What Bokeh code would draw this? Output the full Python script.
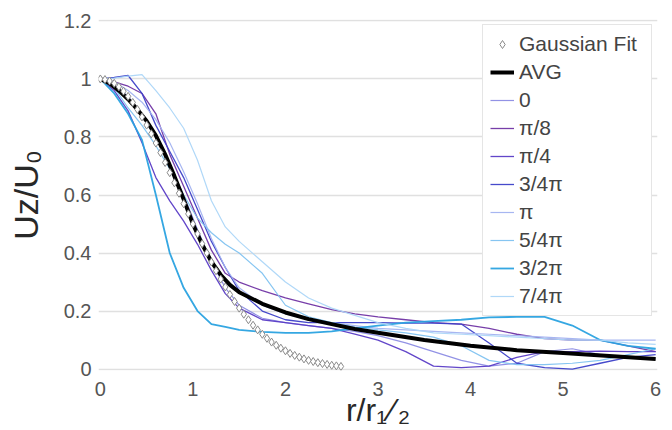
from bokeh.plotting import figure
from bokeh.models import Legend, LegendItem, FixedTicker, Range1d
from bokeh.embed import file_html
from bokeh.resources import INLINE

# ---------------- data ----------------
gauss_r = [0.0, 0.05, 0.1, 0.15, 0.2, 0.25, 0.3, 0.35, 0.4, 0.45, 0.5, 0.55, 0.6, 0.65,
           0.7, 0.75, 0.8, 0.85, 0.9, 0.95, 1.0, 1.05, 1.1, 1.15, 1.2, 1.25, 1.3, 1.35,
           1.4, 1.45, 1.5, 1.55, 1.6, 1.65, 1.7, 1.75, 1.8, 1.85, 1.9, 1.95, 2.0, 2.05,
           2.1, 2.15, 2.2, 2.25, 2.3, 2.35, 2.4, 2.45, 2.5, 2.55, 2.6]
gauss_u = [1.0, 0.998, 0.993, 0.985, 0.973, 0.958, 0.940, 0.919, 0.895, 0.869, 0.841,
           0.811, 0.779, 0.746, 0.712, 0.677, 0.642, 0.606, 0.570, 0.535, 0.500, 0.466,
           0.432, 0.400, 0.369, 0.339, 0.310, 0.283, 0.257, 0.233, 0.210, 0.189, 0.170,
           0.151, 0.135, 0.120, 0.106, 0.093, 0.082, 0.072, 0.063, 0.054, 0.047, 0.041,
           0.035, 0.030, 0.026, 0.022, 0.019, 0.016, 0.013, 0.011, 0.009]

avg_r = [0, 0.1, 0.2, 0.3, 0.4, 0.5, 0.6, 0.7, 0.8, 0.9, 1.0, 1.1, 1.2, 1.3, 1.4, 1.5,
         1.75, 2.0, 2.25, 2.5, 2.75, 3.0, 3.5, 4.0, 4.5, 5.0, 5.5, 6.0]
avg_u = [1.0, 0.985, 0.96, 0.93, 0.895, 0.855, 0.805, 0.74, 0.665, 0.585, 0.5, 0.43,
         0.37, 0.325, 0.29, 0.265, 0.225, 0.195, 0.172, 0.155, 0.138, 0.125, 0.1, 0.08,
         0.065, 0.055, 0.045, 0.035]

r_dir = [0, 0.15, 0.3, 0.45, 0.6, 0.75, 0.9, 1.05, 1.2, 1.35, 1.5, 1.75, 2.0, 2.25, 2.5,
         2.75, 3.0, 3.3, 3.6, 3.9, 4.2, 4.5, 4.8, 5.1, 5.4, 5.7, 6.0]
u_0 = [1.0, 0.98, 0.94, 0.88, 0.8, 0.7, 0.6, 0.48, 0.37, 0.28, 0.22, 0.175, 0.16, 0.15,
       0.14, 0.13, 0.115, 0.09, 0.06, 0.03, 0.01, 0.02, 0.06, 0.07, 0.05, 0.04, 0.035]
u_pi8 = [1.0, 0.99, 0.975, 0.95, 0.88, 0.74, 0.63, 0.52, 0.41, 0.33, 0.3, 0.27, 0.245,
         0.225, 0.205, 0.19, 0.18, 0.17, 0.16, 0.155, 0.14, 0.12, 0.105, 0.1, 0.1, 0.08, 0.06]
u_pi4 = [1.0, 0.96, 0.89, 0.78, 0.66, 0.58, 0.51, 0.43, 0.34, 0.26, 0.21, 0.17, 0.16, 0.15,
         0.14, 0.12, 0.1, 0.06, 0.01, 0.005, 0.01, 0.04, 0.06, 0.06, 0.062, 0.06, 0.06]
u_3pi4 = [1.0, 1.005, 1.012, 0.95, 0.84, 0.75, 0.66, 0.55, 0.44, 0.35, 0.27, 0.2, 0.17,
          0.16, 0.16, 0.16, 0.16, 0.158, 0.158, 0.155, 0.09, 0.02, 0.005, 0.0, 0.02, 0.04, 0.05]
u_pi = [1.0, 0.99, 0.96, 0.92, 0.86, 0.78, 0.68, 0.57, 0.45, 0.35, 0.28, 0.22, 0.19, 0.17,
        0.16, 0.15, 0.14, 0.135, 0.13, 0.125, 0.12, 0.115, 0.11, 0.105, 0.1, 0.1, 0.1]
u_5pi4 = [1.0, 0.97, 0.9, 0.84, 0.77, 0.69, 0.6, 0.52, 0.47, 0.43, 0.4, 0.33, 0.22, 0.18,
          0.16, 0.145, 0.135, 0.125, 0.11, 0.08, 0.03, 0.015, 0.015, 0.02, 0.03, 0.05, 0.07]
u_3pi2 = [1.0, 0.95, 0.88, 0.79, 0.6, 0.4, 0.28, 0.2, 0.155, 0.145, 0.135, 0.128, 0.125,
          0.125, 0.13, 0.14, 0.15, 0.16, 0.165, 0.17, 0.178, 0.18, 0.18, 0.15, 0.1, 0.08, 0.07]
u_7pi4 = [1.0, 1.003, 1.01, 1.015, 0.96, 0.9, 0.83, 0.72, 0.58, 0.49, 0.44, 0.37, 0.3,
          0.245, 0.21, 0.185, 0.16, 0.14, 0.125, 0.12, 0.115, 0.11, 0.105, 0.1, 0.1, 0.09, 0.085]

dir_labels = ["0", "π/8", "π/4", "3/4π", "π", "5/4π", "3/2π", "7/4π"]
dir_values = [u_0, u_pi8, u_pi4, u_3pi4, u_pi, u_5pi4, u_3pi2, u_7pi4]
dir_colors = ["#8c8ce4", "#7034a4", "#5a3cc6", "#3c40c8", "#a2b2f0", "#80c2f0", "#2aa2e0", "#acd6f8"]
dir_widths = [1.2, 1.3, 1.3, 1.3, 1.2, 1.2, 1.8, 1.2]

x_ticks = [0, 1, 2, 3, 4, 5, 6]
y_ticks = [0, 0.2, 0.4, 0.6, 0.8, 1, 1.2]
y_tick_labels = ["0", "0.2", "0.4", "0.6", "0.8", "1", "1.2"]

FONT = "Liberation Sans"

# ---------------- figure ----------------
p = figure(width=672, height=430, output_backend="svg", toolbar_location=None,
           x_range=Range1d(-0.02, 6.02), y_range=Range1d(-0.005, 1.205),
           min_border_left=98, min_border_right=15, min_border_top=19, min_border_bottom=59)
p.outline_line_color = None
p.background_fill_color = "white"
p.border_fill_color = "white"

p.xgrid.visible = False
p.ygrid.grid_line_color = "#e0e0e0"
p.ygrid.grid_line_width = 1.5
p.ygrid.ticker = FixedTicker(ticks=y_ticks)

for ax in (p.xaxis[0], p.yaxis[0]):
    ax.axis_line_color = None
    ax.major_tick_line_color = None
    ax.minor_tick_line_color = None
    ax.major_label_text_font = FONT
    ax.major_label_text_font_size = "20px"
    ax.major_label_text_color = "#555555"
    ax.axis_label_text_font = FONT
    ax.axis_label_text_font_style = "normal"
    ax.axis_label_text_color = "#282828"

p.xaxis.ticker = FixedTicker(ticks=x_ticks)
p.xaxis.major_label_standoff = 5
p.xaxis.axis_label = "r/r₁\u200a⁄\u200a₂"
p.xaxis.axis_label_text_font_size = "32px"
p.xaxis.axis_label_standoff = -7

p.yaxis.ticker = FixedTicker(ticks=y_ticks)
p.yaxis.major_label_overrides = {t: s for t, s in zip(y_ticks, y_tick_labels)}
p.yaxis.major_label_standoff = 1
p.yaxis.axis_label = "Uz/U₀"
p.yaxis.axis_label_text_font_size = "34px"
p.yaxis.axis_label_standoff = 16

dir_items = []
for lab, vals, col, w in zip(dir_labels, dir_values, dir_colors, dir_widths):
    rr = p.line(r_dir, vals, line_color=col, line_width=w, line_alpha=0.95)
    dir_items.append(LegendItem(label=lab, renderers=[rr]))

r_avg = p.line(avg_r, avg_u, line_color="black", line_width=4)
r_g = p.scatter(gauss_r, gauss_u, marker="diamond", size=8, fill_color="white",
                line_color="#8a8a8a", line_width=1)

items = [LegendItem(label="Gaussian Fit", renderers=[r_g]),
         LegendItem(label="AVG", renderers=[r_avg])] + dir_items

legend = Legend(items=items, location="top_right", margin=5, padding=7, spacing=4,
                glyph_width=24, glyph_height=20, label_height=20, label_standoff=5,
                label_width=125,
                label_text_font=FONT, label_text_font_size="21px",
                label_text_color="#444444", border_line_color="#cccccc",
                background_fill_color="white", background_fill_alpha=1.0)
p.add_layout(legend)

open("out.html", "w").write(file_html(p, INLINE))
